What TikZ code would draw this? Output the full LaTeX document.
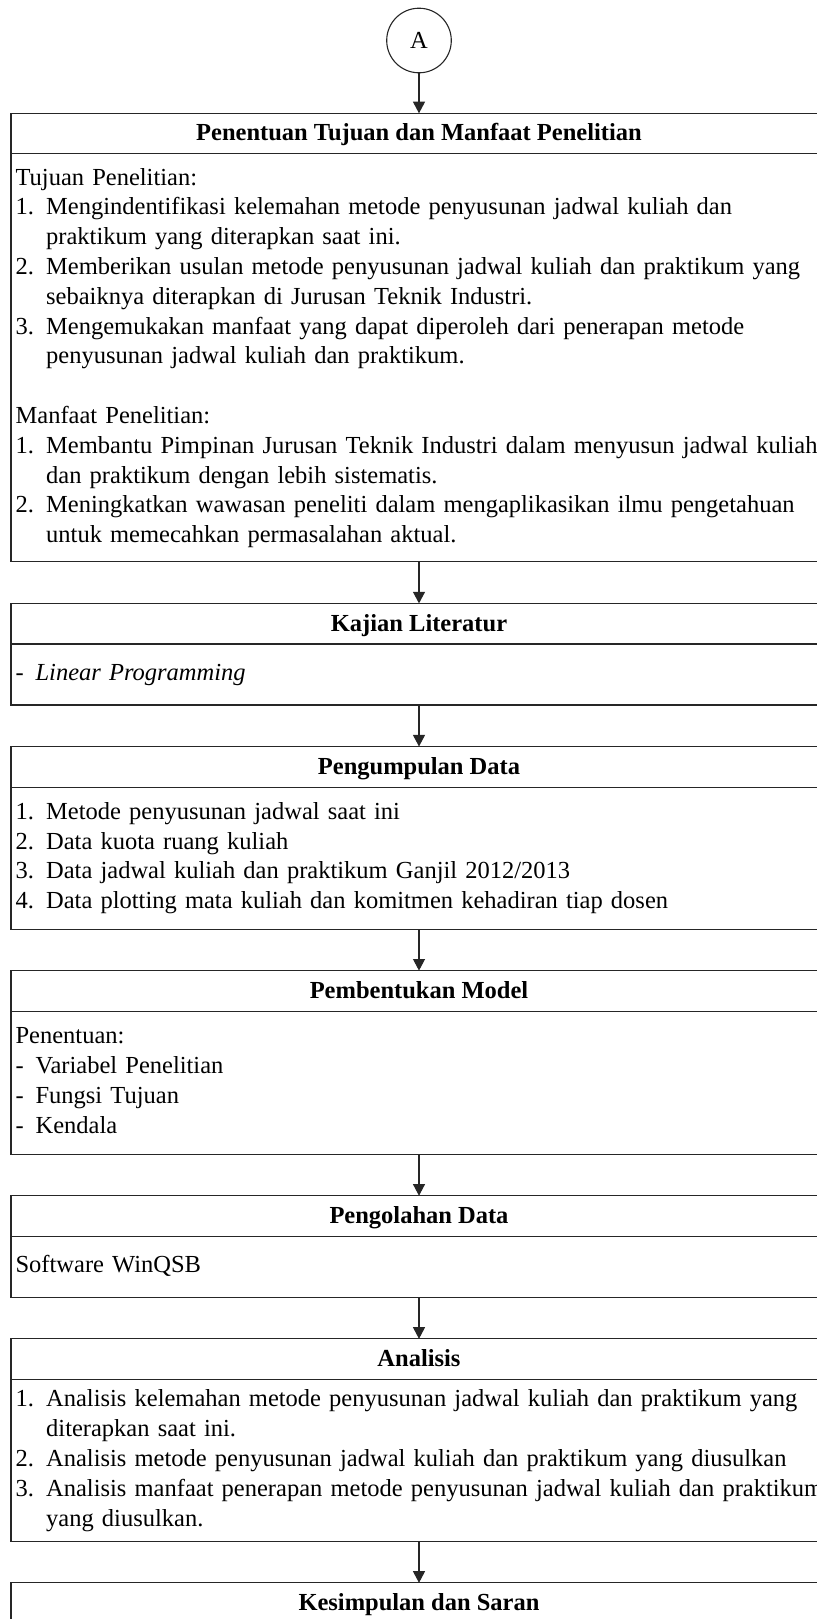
\documentclass[tikz,border=0pt]{standalone}
\usepackage{fontspec}
\setmainfont{Liberation Serif}
\usepackage{tikz}
\usetikzlibrary{positioning,arrows.meta}

\tikzset{
  judul/.style={draw,rectangle,outer sep=0pt,inner sep=0pt,minimum width=408pt,minimum height=20.3pt,
    text height=8.6pt,text depth=1.3pt,font=\fontsize{12.25}{14.9}\selectfont\bfseries},
  isi/.style={draw,rectangle,outer sep=0pt,minimum width=408pt,text width=403.4pt,
    inner xsep=2.3pt,inner ysep=0pt,align=left},
  panah/.style={-{Triangle[width=6pt,length=5.8pt]}}
}
\newcommand{\nr}[1]{\makebox[15.3pt][l]{#1}}
\newcommand{\nx}{\hspace*{15.3pt}}
\newcommand{\dsh}{\makebox[10pt][l]{-}}
\newcommand{\baris}[1]{\noindent\begin{tabular}{@{}l@{}}#1\end{tabular}}

\begin{document}
\begin{tikzpicture}[x=0.5pt,y=-0.5pt,line width=.55pt,draw=black!85,font=\fontsize{12.25}{14.9}\selectfont]
\path[use as bounding box] (0,0) rectangle (817,1619);
\clip (0,0) rectangle (817,1619);
\node[draw,circle,minimum size=32.3pt,inner sep=0pt] (a) at (419,40.5) {A};
\node[judul,anchor=north] (t1) at (419,113.3) {Penentuan Tujuan dan Manfaat Penelitian};
\node[isi,minimum height=204pt,below=0pt of t1] (b1) {\baris{Tujuan Penelitian:\\
\nr{1.}Mengindentifikasi kelemahan metode penyusunan jadwal kuliah dan\\
\nx praktikum yang diterapkan saat ini.\\
\nr{2.}Memberikan usulan metode penyusunan jadwal kuliah dan praktikum yang\\
\nx sebaiknya diterapkan di Jurusan Teknik Industri.\\
\nr{3.}Mengemukakan manfaat yang dapat diperoleh dari penerapan metode\\
\nx penyusunan jadwal kuliah dan praktikum.\\
\\
Manfaat Penelitian:\\
\nr{1.}Membantu Pimpinan Jurusan Teknik Industri dalam menyusun jadwal kuliah\\
\nx dan praktikum dengan lebih sistematis.\\
\nr{2.}Meningkatkan wawasan peneliti dalam mengaplikasikan ilmu pengetahuan\\
\nx untuk memecahkan permasalahan aktual.}};
\node[judul,below=20.75pt of b1] (t2) {Kajian Literatur};
\node[isi,minimum height=30.5pt,below=0pt of t2] (b2) {\baris{\dsh\textit{Linear Programming}}};
\node[judul,below=20.75pt of b2] (t3) {Pengumpulan Data};
\node[isi,minimum height=71pt,below=0pt of t3] (b3) {\baris{\nr{1.}Metode penyusunan jadwal saat ini\\
\nr{2.}Data kuota ruang kuliah\\
\nr{3.}Data jadwal kuliah dan praktikum Ganjil 2012/2013\\
\nr{4.}Data plotting mata kuliah dan komitmen kehadiran tiap dosen}};
\node[judul,below=20.75pt of b3] (t4) {Pembentukan Model};
\node[isi,minimum height=71.5pt,below=0pt of t4] (b4) {\baris{Penentuan:\\
\dsh Variabel Penelitian\\
\dsh Fungsi Tujuan\\
\dsh Kendala}};
\node[judul,below=20.75pt of b4] (t5) {Pengolahan Data};
\node[isi,minimum height=30.5pt,below=0pt of t5] (b5) {\baris{Software WinQSB}};
\node[judul,below=20.75pt of b5] (t6) {Analisis};
\node[isi,minimum height=81.2pt,below=0pt of t6] (b6) {\baris{\nr{1.}Analisis kelemahan metode penyusunan jadwal kuliah dan praktikum yang\\
\nx diterapkan saat ini.\\
\nr{2.}Analisis metode penyusunan jadwal kuliah dan praktikum yang diusulkan\\
\nr{3.}Analisis manfaat penerapan metode penyusunan jadwal kuliah dan praktikum\\
\nx yang diusulkan.}};
\node[judul,below=20.5pt of b6] (t7) {Kesimpulan dan Saran};
% panah antar tahap
\draw[panah] (a) -- (t1);
\draw[panah] (b1) -- (t2);
\draw[panah] (b2) -- (t3);
\draw[panah] (b3) -- (t4);
\draw[panah] (b4) -- (t5);
\draw[panah] (b5) -- (t6);
\draw[panah] (b6) -- (t7);
\end{tikzpicture}
\end{document}
